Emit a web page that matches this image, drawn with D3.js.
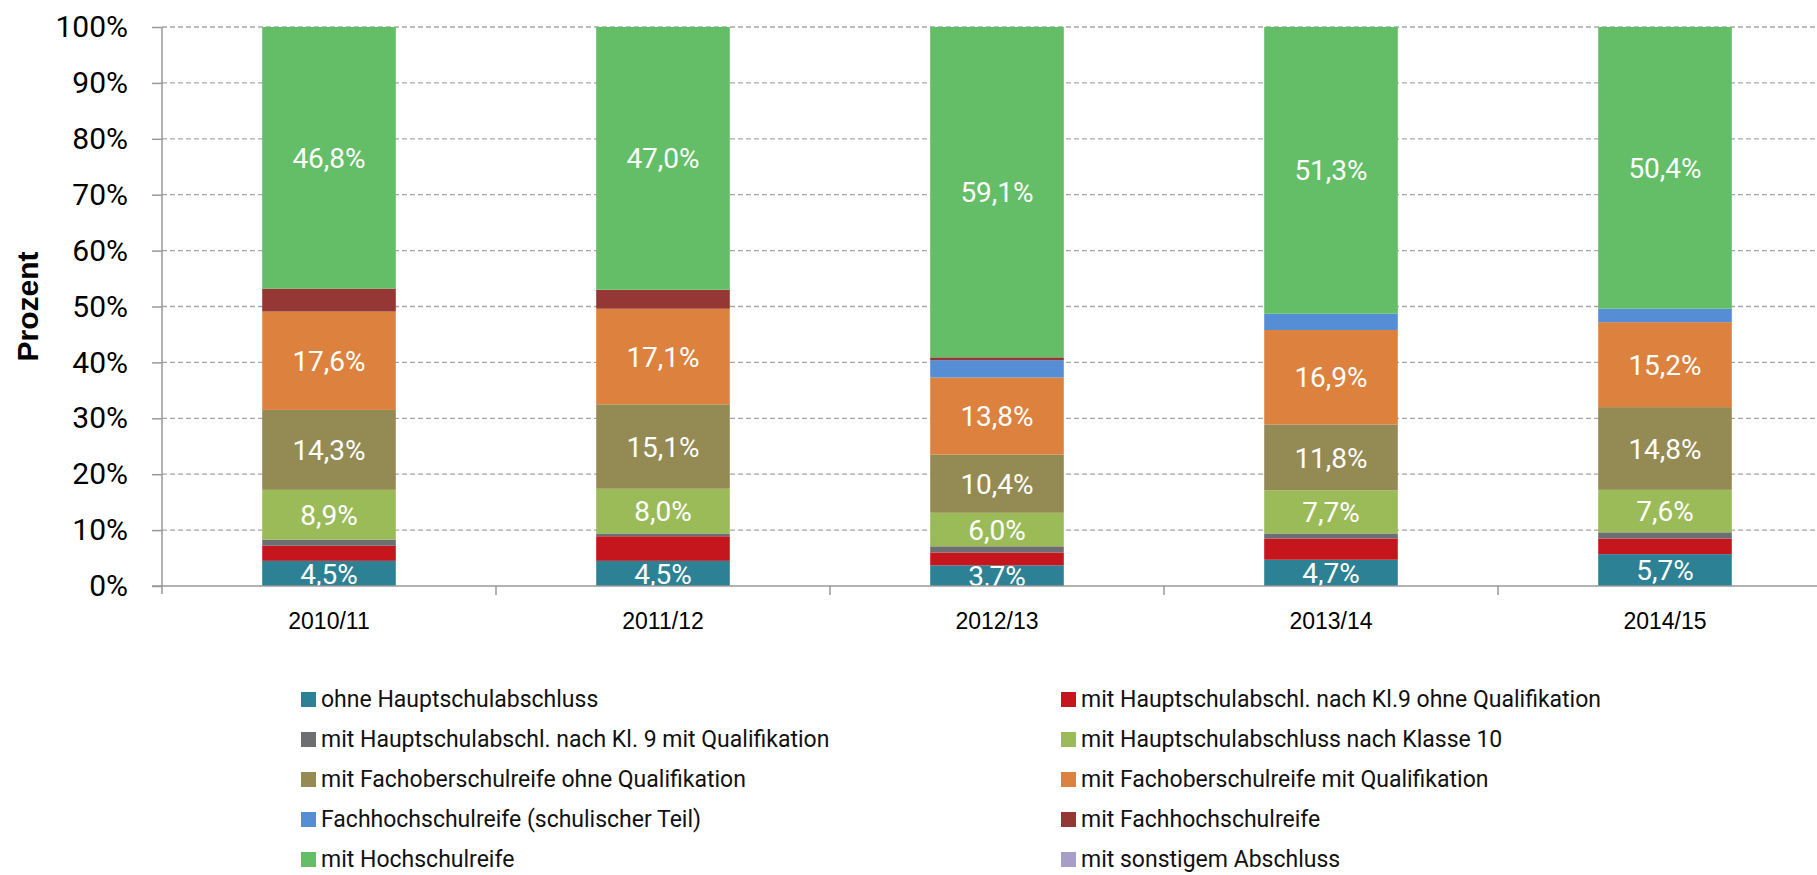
<!DOCTYPE html>
<html>
<head>
<meta charset="utf-8">
<script src="https://cdn.jsdelivr.net/npm/d3@7"></script>
<style>
  body { margin: 0; background: #fff; }
  svg { display: block; }
</style>
</head>
<body>
<svg id="chart"></svg>
<script>
const years = ["2010/11", "2011/12", "2012/13", "2013/14", "2014/15"];

const seriesNames = [
  "ohne Hauptschulabschluss",
  "mit Hauptschulabschl. nach Kl.9 ohne Qualifikation",
  "mit Hauptschulabschl. nach Kl. 9 mit Qualifikation",
  "mit Hauptschulabschluss nach Klasse 10",
  "mit Fachoberschulreife ohne Qualifikation",
  "mit Fachoberschulreife mit Qualifikation",
  "Fachhochschulreife (schulischer Teil)",
  "mit Fachhochschulreife",
  "mit Hochschulreife",
  "mit sonstigem Abschluss"
];

const seriesColors = [
  "#2c8294", "#c4161c", "#6d6e71", "#9bbb59", "#948a54",
  "#dc823e", "#558ed5", "#953735", "#63be67", "#a89cc8"
];

// one array per series, in year order
const ohneHS = [4.5, 4.5, 3.7, 4.7, 5.7];
const hsKl9Ohne = [2.7, 4.4, 2.3, 3.8, 2.8];
const hsKl9Mit = [1.1, 0.5, 1.1, 0.9, 1.1];
const hsKl10 = [8.9, 8.0, 6.0, 7.7, 7.6];
const forOhne = [14.3, 15.1, 10.4, 11.8, 14.8];
const forMit = [17.6, 17.1, 13.8, 16.9, 15.2];
const fhrSchulisch = [0, 0, 3.1, 2.9, 2.4];
const fhr = [4.1, 3.4, 0.5, 0, 0];
const abitur = [46.8, 47.0, 59.1, 51.3, 50.4];
const sonstige = [0, 0, 0, 0, 0];

const seriesValues = [ohneHS, hsKl9Ohne, hsKl9Mit, hsKl10, forOhne, forMit, fhrSchulisch, fhr, abitur, sonstige];

// series that carry a value label
const labelled = [0, 3, 4, 5, 8];

const yTicks = [0, 10, 20, 30, 40, 50, 60, 70, 80, 90, 100];

const W = 1817, H = 875;
const plotLeft = 162, plotTop = 27, plotBottom = 586;
const step = 334;

const svg = d3.select("#chart").attr("width", W).attr("height", H);

const data = years.map((yr, i) => {
  const row = { year: yr };
  seriesNames.forEach((s, j) => { row[s] = seriesValues[j][i]; });
  return row;
});

const stacked = d3.stack().keys(seriesNames)(data);

const x = d3.scaleBand()
  .domain(years)
  .range([plotLeft, plotLeft + step * years.length])
  .paddingInner(0.6)
  .paddingOuter(0.3);

const y = d3.scaleLinear().domain([0, 100]).range([plotBottom, plotTop]);

// gridlines
svg.append("g")
  .selectAll("line")
  .data(yTicks.filter(d => d > 0))
  .enter()
  .append("line")
  .attr("x1", plotLeft)
  .attr("x2", W)
  .attr("y1", d => y(d))
  .attr("y2", d => y(d))
  .attr("stroke", "#a6a6a6")
  .attr("stroke-width", 1.3)
  .attr("stroke-dasharray", "5,3");

// bars
const layers = svg.append("g")
  .selectAll("g")
  .data(stacked)
  .enter()
  .append("g")
  .attr("fill", (d, i) => seriesColors[i]);

layers.selectAll("rect")
  .data(d => d)
  .enter()
  .append("rect")
  .attr("x", d => x(d.data.year))
  .attr("width", x.bandwidth())
  .attr("y", d => y(d[1]))
  .attr("height", d => y(d[0]) - y(d[1]));

// value labels, clipped to the plot area
svg.append("clipPath")
  .attr("id", "plot-clip")
  .append("rect")
  .attr("x", plotLeft)
  .attr("y", plotTop)
  .attr("width", W - plotLeft)
  .attr("height", plotBottom - plotTop);

const labels = svg.append("g").attr("clip-path", "url(#plot-clip)");
labelled.forEach((si) => {
  labels.selectAll(null)
    .data(stacked[si])
    .enter()
    .append("text")
    .attr("x", d => x(d.data.year) + x.bandwidth() / 2)
    .attr("y", d => (y(d[0]) + y(d[1])) / 2)
    .attr("dy", "0.36em")
    .attr("text-anchor", "middle")
    .attr("fill", "#fff")
    .style("font-family", "Roboto, sans-serif")
    .style("font-size", "28px")
    .text(d => (d[1] - d[0]).toFixed(1).replace(".", ",") + "%");
});

// y axis
const yAxis = svg.append("g")
  .attr("transform", `translate(${plotLeft},0)`)
  .call(d3.axisLeft(y).tickValues(yTicks).tickSize(10).tickPadding(24).tickFormat(d => d + "%"));
yAxis.select(".domain").remove();
yAxis.selectAll(".tick line").attr("stroke", "#999").attr("stroke-width", 1.5);
yAxis.selectAll(".tick text")
  .attr("fill", "#000")
  .style("font-family", "Roboto, sans-serif")
  .style("font-size", "30px");

svg.append("line")
  .attr("x1", plotLeft).attr("x2", plotLeft)
  .attr("y1", plotTop).attr("y2", plotBottom + 8)
  .attr("stroke", "#999").attr("stroke-width", 1.5);

// x axis
svg.append("line")
  .attr("x1", plotLeft - 10).attr("x2", W)
  .attr("y1", plotBottom).attr("y2", plotBottom)
  .attr("stroke", "#999").attr("stroke-width", 1.5);

// tick marks between categories
const gap = (x.step() - x.bandwidth()) / 2;
svg.append("g")
  .selectAll("line")
  .data(years.slice(1))
  .enter()
  .append("line")
  .attr("x1", d => x(d) - gap)
  .attr("x2", d => x(d) - gap)
  .attr("y1", plotBottom)
  .attr("y2", plotBottom + 9)
  .attr("stroke", "#999")
  .attr("stroke-width", 1.5);

svg.append("g")
  .selectAll("text")
  .data(years)
  .enter()
  .append("text")
  .attr("x", d => x(d) + x.bandwidth() / 2)
  .attr("y", 629)
  .attr("text-anchor", "middle")
  .style("font-family", "'Liberation Sans', Arial, sans-serif")
  .style("font-size", "23px")
  .text(d => d);

// y axis title
svg.append("text")
  .attr("transform", `translate(38,${(plotTop + plotBottom) / 2}) rotate(-90)`)
  .attr("text-anchor", "middle")
  .style("font-family", "'Liberation Sans', Arial, sans-serif")
  .style("font-weight", "bold")
  .style("font-size", "30px")
  .text("Prozent");

// legend
const legendCols = [301, 1061];
const legendRow0 = 699, legendRowStep = 40;
const legend = svg.append("g")
  .selectAll("g")
  .data(seriesNames)
  .enter()
  .append("g")
  .attr("transform", (d, i) => `translate(${legendCols[i % 2]},${legendRow0 + Math.floor(i / 2) * legendRowStep})`);

legend.append("rect")
  .attr("x", 0)
  .attr("y", -7)
  .attr("width", 15)
  .attr("height", 15)
  .attr("fill", (d, i) => seriesColors[i]);

legend.append("text")
  .attr("x", 20)
  .attr("y", 0)
  .attr("dy", "0.36em")
  .style("font-family", "Roboto, sans-serif")
  .style("font-size", "23px")
  .attr("fill", "#111")
  .text(d => d);
</script>
</body>
</html>
